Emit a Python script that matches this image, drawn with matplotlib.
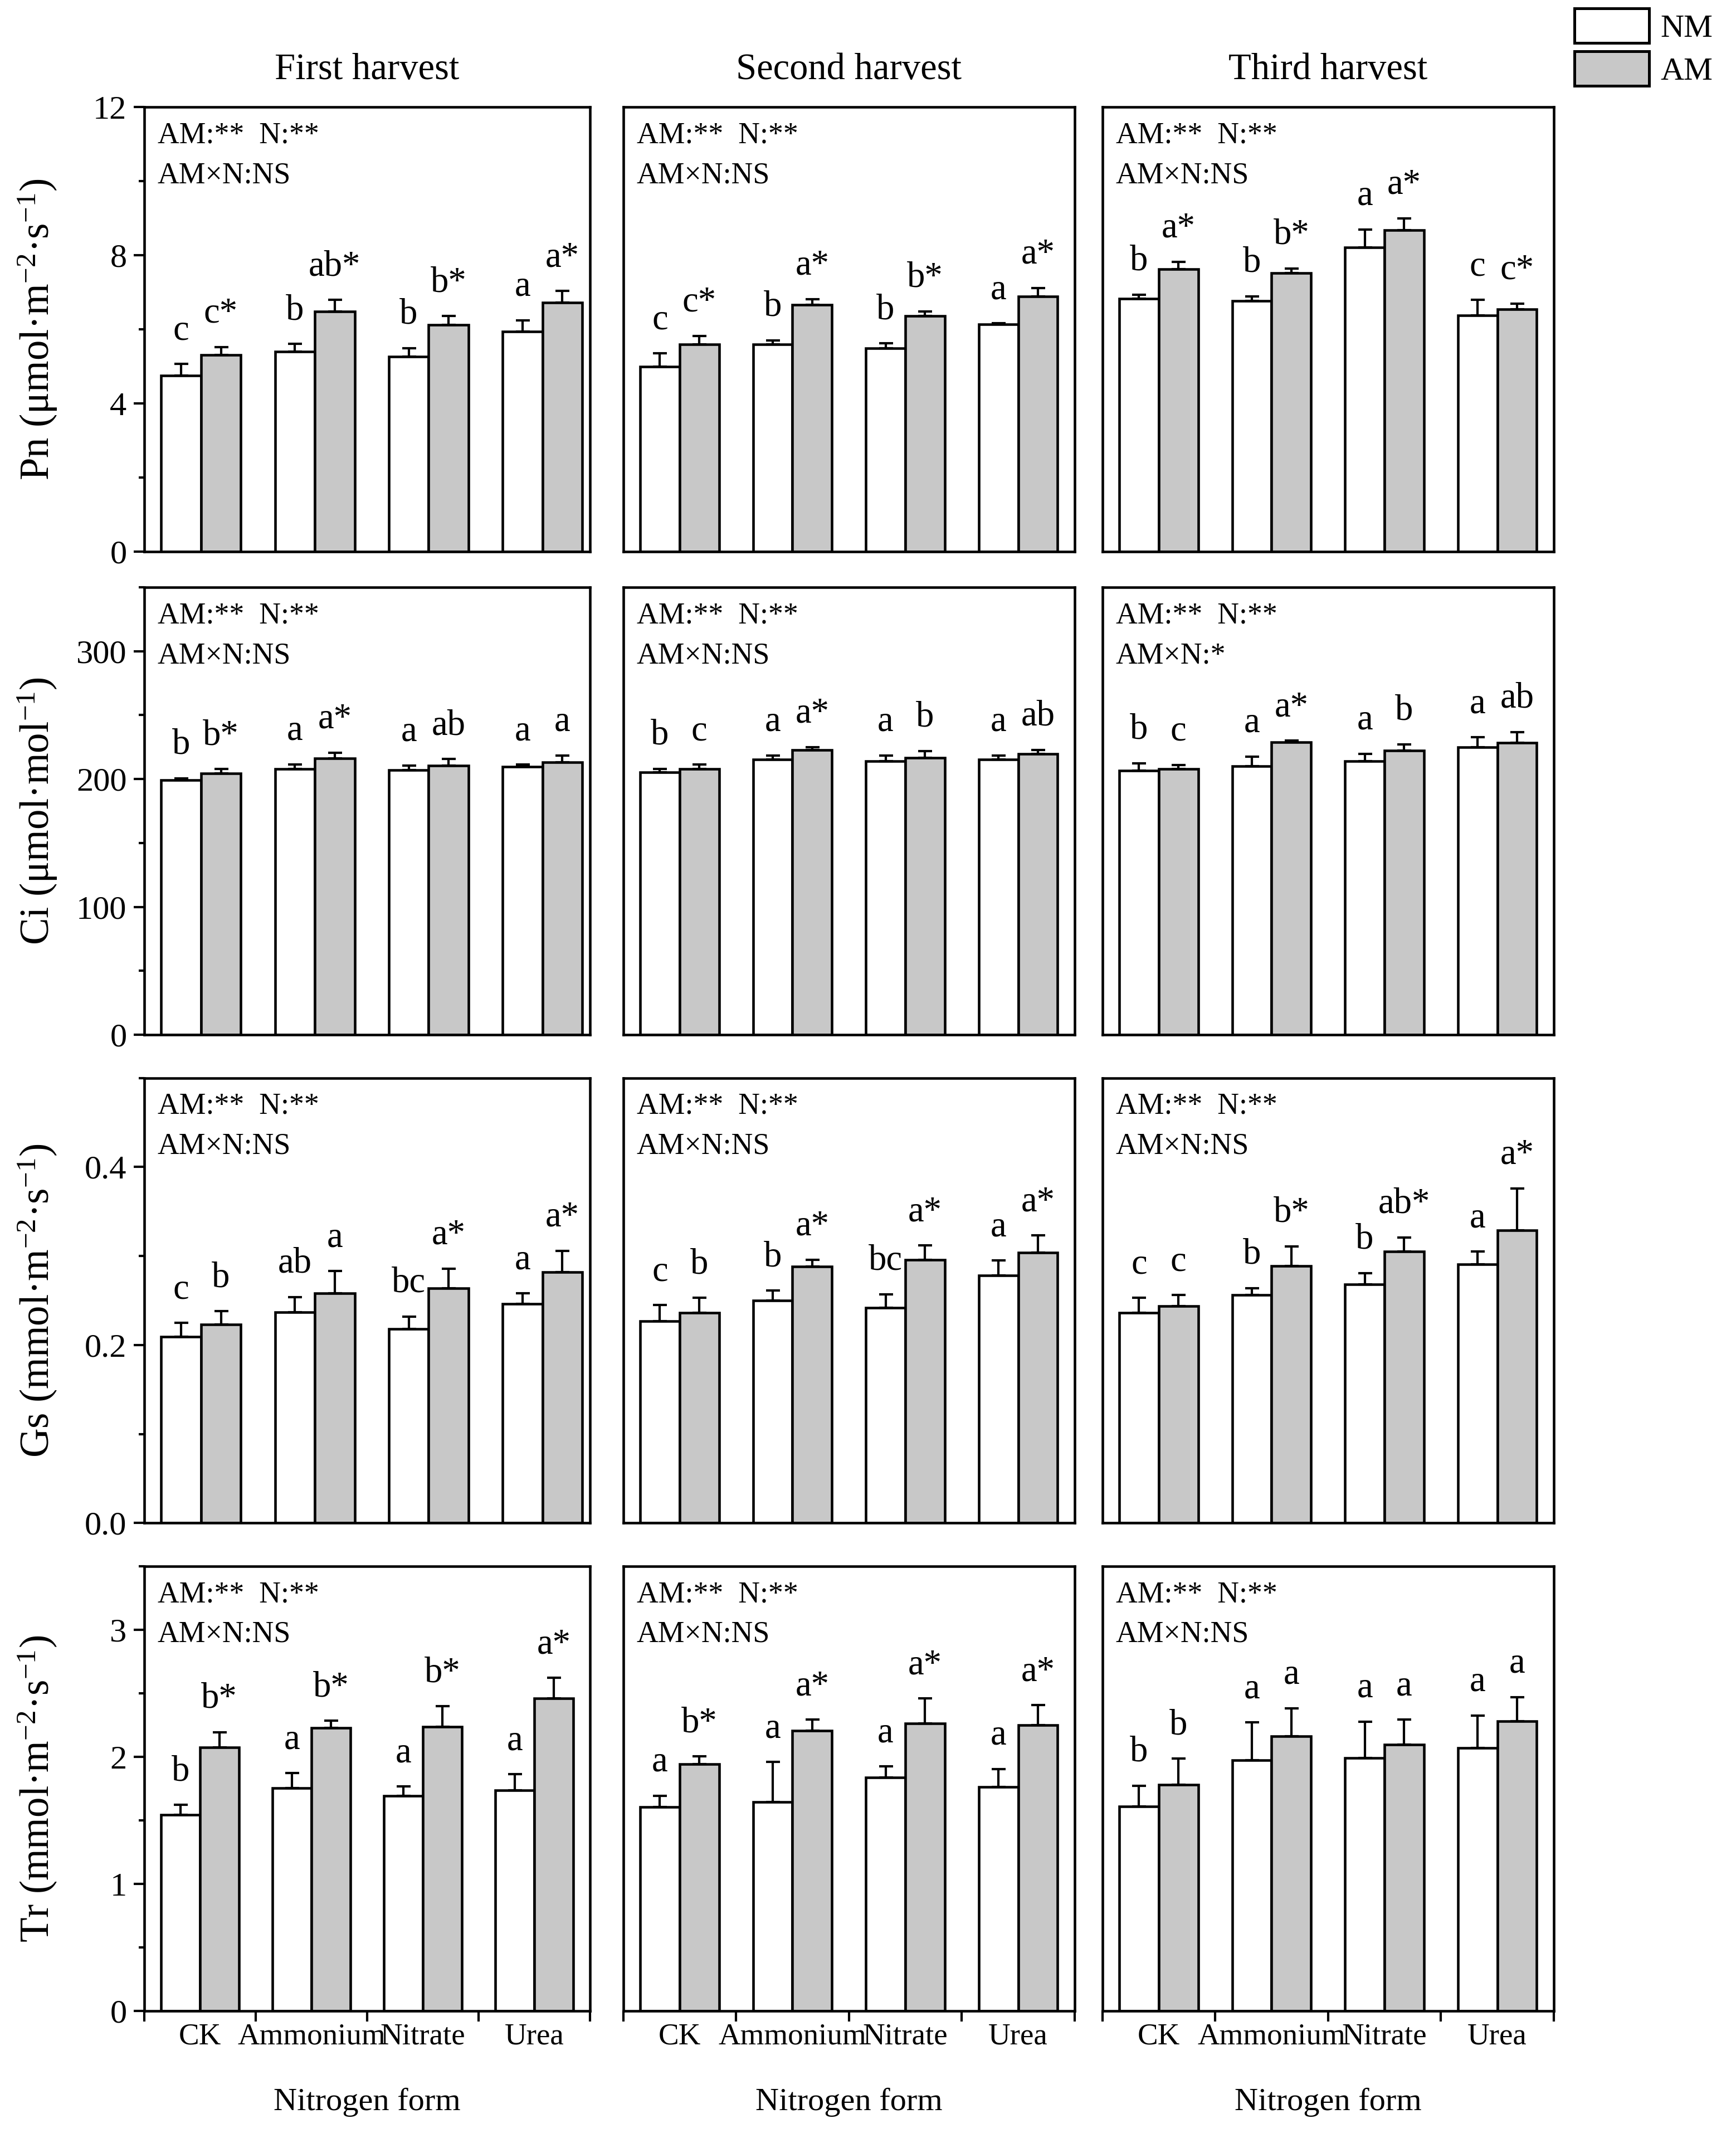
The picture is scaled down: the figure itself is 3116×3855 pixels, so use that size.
import numpy as np
import matplotlib
matplotlib.use('Agg')
import matplotlib.pyplot as plt
from matplotlib.patches import Patch
from matplotlib.ticker import MultipleLocator, FormatStrFormatter

plt.rcParams['font.family'] = ['Liberation Serif', 'DejaVu Serif']
plt.rcParams['mathtext.fontset'] = 'custom'
plt.rcParams['mathtext.rm'] = 'Liberation Serif'
plt.rcParams['mathtext.it'] = 'Liberation Serif:italic'
plt.rcParams['mathtext.bf'] = 'Liberation Serif:bold'

# ---------------- data ----------------
categories = ['CK', 'Ammonium', 'Nitrate', 'Urea']
harvests = ['First harvest', 'Second harvest', 'Third harvest']
series = ['NM', 'AM']

# Pn (rows = harvests, columns = categories)
pn_nm = [[4.75, 5.41, 5.27, 5.95], [5.00, 5.60, 5.50, 6.14], [6.83, 6.77, 8.21, 6.38]]
pn_nm_err = [[0.32, 0.20, 0.23, 0.30], [0.36, 0.11, 0.13, 0.03], [0.11, 0.13, 0.49, 0.42]]
pn_am = [[5.31, 6.48, 6.12, 6.72], [5.60, 6.67, 6.36, 6.89], [7.63, 7.53, 8.68, 6.55]]
pn_am_err = [[0.22, 0.32, 0.24, 0.32], [0.23, 0.15, 0.13, 0.23], [0.20, 0.12, 0.32, 0.15]]
pn_nm_let = [['c', 'b', 'b', 'a'], ['c', 'b', 'b', 'a'], ['b', 'b', 'a', 'c']]
pn_am_let = [['c*', 'ab*', 'b*', 'a*'], ['c*', 'a*', 'b*', 'a*'], ['a*', 'b*', 'a*', 'c*']]
pn_stats = [['AM:**  N:**', 'AM×N:NS'], ['AM:**  N:**', 'AM×N:NS'], ['AM:**  N:**', 'AM×N:NS']]

# Ci
ci_nm = [[199.0, 207.8, 207.0, 209.5], [205.2, 215.4, 213.9, 215.4], [206.6, 210.0, 213.9, 224.8]]
ci_nm_err = [[1.5, 3.7, 3.7, 1.7], [2.9, 3.1, 4.6, 2.9], [5.8, 7.5, 5.8, 7.8]]
ci_am = [[204.6, 216.3, 210.7, 213.2], [207.8, 222.7, 216.4, 219.5], [207.8, 229.0, 222.2, 228.5]]
ci_am_err = [[3.2, 4.4, 4.9, 5.3], [3.4, 2.2, 5.6, 3.2], [3.2, 1.0, 4.8, 8.3]]
ci_nm_let = [['b', 'a', 'a', 'a'], ['b', 'a', 'a', 'a'], ['b', 'a', 'a', 'a']]
ci_am_let = [['b*', 'a*', 'ab', 'a'], ['c', 'a*', 'b', 'ab'], ['c', 'a*', 'b', 'ab']]
ci_stats = [['AM:**  N:**', 'AM×N:NS'], ['AM:**  N:**', 'AM×N:NS'], ['AM:**  N:**', 'AM×N:*']]

# Gs
gs_nm = [[0.209, 0.237, 0.218, 0.246], [0.227, 0.250, 0.242, 0.278], [0.236, 0.256, 0.268, 0.291]]
gs_nm_err = [[0.016, 0.017, 0.014, 0.012], [0.018, 0.011, 0.015, 0.017], [0.017, 0.008, 0.013, 0.014]]
gs_am = [[0.223, 0.258, 0.264, 0.282], [0.236, 0.288, 0.296, 0.304], [0.244, 0.289, 0.305, 0.329]]
gs_am_err = [[0.015, 0.025, 0.022, 0.024], [0.017, 0.008, 0.016, 0.019], [0.012, 0.022, 0.016, 0.047]]
gs_nm_let = [['c', 'ab', 'bc', 'a'], ['c', 'b', 'bc', 'a'], ['c', 'b', 'b', 'a']]
gs_am_let = [['b', 'a', 'a*', 'a*'], ['b', 'a*', 'a*', 'a*'], ['c', 'b*', 'ab*', 'a*']]
gs_stats = [['AM:**  N:**', 'AM×N:NS'], ['AM:**  N:**', 'AM×N:NS'], ['AM:**  N:**', 'AM×N:NS']]

# Tr
tr_nm = [[1.545, 1.754, 1.692, 1.737], [1.605, 1.644, 1.836, 1.764], [1.609, 1.972, 1.993, 2.071]]
tr_nm_err = [[0.078, 0.117, 0.075, 0.126], [0.090, 0.315, 0.090, 0.141], [0.165, 0.300, 0.285, 0.255]]
tr_am = [[2.075, 2.228, 2.239, 2.461], [1.944, 2.208, 2.265, 2.250], [1.780, 2.162, 2.096, 2.279]]
tr_am_err = [[0.120, 0.057, 0.159, 0.162], [0.060, 0.084, 0.195, 0.156], [0.207, 0.222, 0.198, 0.192]]
tr_nm_let = [['b', 'a', 'a', 'a'], ['a', 'a', 'a', 'a'], ['b', 'a', 'a', 'a']]
tr_am_let = [['b*', 'b*', 'b*', 'a*'], ['b*', 'a*', 'a*', 'a*'], ['b', 'a', 'a', 'a']]
tr_stats = [['AM:**  N:**', 'AM×N:NS'], ['AM:**  N:**', 'AM×N:NS'], ['AM:**  N:**', 'AM×N:NS']]

ylabels = ['Pn (μmol·m$^{-2}$·s$^{-1}$)', 'Ci (μmol·mol$^{-1}$)',
           'Gs (mmol·m$^{-2}$·s$^{-1}$)', 'Tr (mmol·m$^{-2}$·s$^{-1}$)']
ymax_list = [12, 350, 0.5, 3.5]
ymajor = [4, 100, 0.2, 1]
xlabel = 'Nitrogen form'

variables = [
    (pn_nm, pn_nm_err, pn_am, pn_am_err, pn_nm_let, pn_am_let, pn_stats),
    (ci_nm, ci_nm_err, ci_am, ci_am_err, ci_nm_let, ci_am_let, ci_stats),
    (gs_nm, gs_nm_err, gs_am, gs_am_err, gs_nm_let, gs_am_let, gs_stats),
    (tr_nm, tr_nm_err, tr_am, tr_am_err, tr_nm_let, tr_am_let, tr_stats),
]

# ---------------- layout ----------------
col_left = [0.083, 0.359, 0.635]
col_right = [0.340, 0.619, 0.895]
row_bottom = [0.7431, 0.5183, 0.2910, 0.0638]
row_top = [0.9501, 0.7266, 0.4981, 0.2708]

gray = '#c8c8c8'
bw = 0.35
lw = 1.1

fig = plt.figure(figsize=(3116 / 300, 3855 / 300), dpi=300)

for r, (nm, nme, am, ame, nml, aml, st) in enumerate(variables):
    ymax = ymax_list[r]
    for c in range(3):
        ax = fig.add_axes([col_left[c], row_bottom[r],
                           col_right[c] - col_left[c], row_top[r] - row_bottom[r]])
        x = np.arange(len(categories))
        xn = x + 0.15 + bw / 2
        xa = x + 0.5 + bw / 2
        ekw = dict(ecolor='black', elinewidth=1.0, capsize=3, capthick=1.0)
        ax.bar(xn, nm[c], bw, color='white', edgecolor='black', linewidth=lw,
               yerr=[np.zeros(4), nme[c]], error_kw=ekw, zorder=2)
        ax.bar(xa, am[c], bw, color=gray, edgecolor='black', linewidth=lw,
               yerr=[np.zeros(4), ame[c]], error_kw=ekw, zorder=2)
        gap = 0.055 * ymax
        for i in range(4):
            ax.text(xn[i], nm[c][i] + nme[c][i] + gap, nml[c][i], ha='center',
                    va='baseline', fontsize=15.5)
            ax.text(xa[i], am[c][i] + ame[c][i] + gap, aml[c][i], ha='center',
                    va='baseline', fontsize=15.5)
        ax.text(0.03, 0.968, st[c][0], transform=ax.transAxes, va='top', ha='left',
                fontsize=12.9)
        ax.text(0.03, 0.878, st[c][1], transform=ax.transAxes, va='top', ha='left',
                fontsize=12.9)

        ax.set_xlim(0, 3.92 if c == 0 else 4)
        ax.set_ylim(0, ymax)
        for s in ax.spines.values():
            s.set_linewidth(1.1)

        if c == 0:
            ax.yaxis.set_major_locator(MultipleLocator(ymajor[r]))
            ax.yaxis.set_minor_locator(MultipleLocator(ymajor[r] / 2))
            if r == 2:
                ax.yaxis.set_major_formatter(FormatStrFormatter('%.1f'))
            ax.tick_params(axis='y', which='major', direction='out', length=4.5,
                           width=1.0, labelsize=14.5, pad=3)
            ax.tick_params(axis='y', which='minor', direction='out', length=2.5,
                           width=1.0)
            ax.set_ylabel(ylabels[r], fontsize=17.5)
            ax.yaxis.set_label_coords(-0.19, 0.5)
        else:
            ax.tick_params(axis='y', which='both', left=False, labelleft=False)

        if r == 3:
            ax.set_xticks([0, 1, 2, 3, 4])
            ax.set_xticklabels([])
            ax.set_xticks(x + 0.5, minor=True)
            ax.set_xticklabels(categories, minor=True)
            ax.tick_params(axis='x', which='major', direction='out', length=4.5, width=1.0)
            ax.tick_params(axis='x', which='minor', length=0, labelsize=13.2, pad=5)
            ax.set_xlabel(xlabel, fontsize=14, labelpad=16)
        else:
            ax.tick_params(axis='x', which='both', bottom=False, labelbottom=False)

        if r == 0:
            ax.set_title(harvests[c], fontsize=16, pad=12)

handles = [Patch(facecolor='white', edgecolor='black', linewidth=1.2, label=series[0]),
           Patch(facecolor=gray, edgecolor='black', linewidth=1.2, label=series[1])]
fig.legend(handles=handles, loc='upper left', bbox_to_anchor=(0.907, 0.996),
           frameon=False, fontsize=14, handlelength=2.3, handleheight=1.25,
           handletextpad=0.35, labelspacing=0.25, borderpad=0, borderaxespad=0)

fig.savefig('out.png', dpi=300)
